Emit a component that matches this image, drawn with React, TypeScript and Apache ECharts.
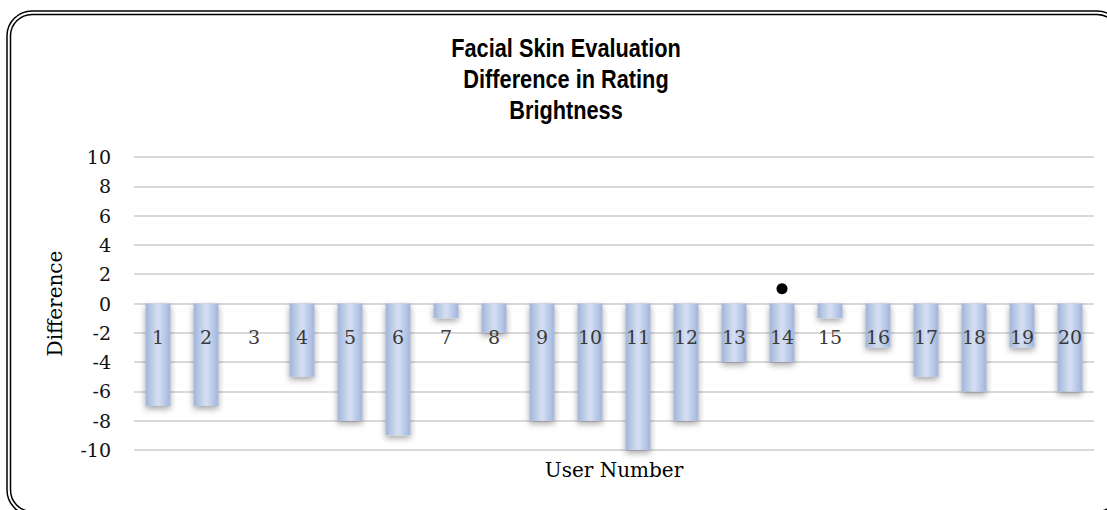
import React, { useEffect, useRef } from "react";
import * as echarts from "echarts";

const titleLines = ["Facial Skin Evaluation", "Difference in Rating", "Brightness"];
const categories = ["1", "2", "3", "4", "5", "6", "7", "8", "9", "10", "11", "12", "13", "14", "15", "16", "17", "18", "19", "20"];
const differences = [-7, -7, 0, -5, -8, -9, -1, -2, -8, -8, -10, -8, -4, -4, -1, -3, -5, -6, -3, -6];
const markerCategories = ["14"];
const markerValues = [1];
const yMin = -10;
const yMax = 10;
const yStep = 2;
const xAxisName = "User Number";
const yAxisName = "Difference";

const GRID_TOP = 157;
const GRID_BOTTOM = 60;
const CHART_H = 510;

export default function App() {
  const ref = useRef<HTMLDivElement>(null);
  useEffect(() => {
    if (!ref.current) return;
    const chart = echarts.init(ref.current, null, { renderer: "svg" });
    const serif = "DejaVu Serif";
    const plotH = CHART_H - GRID_TOP - GRID_BOTTOM;
    // distance from the plot bottom up to the zero line
    const zeroOffset = (plotH * (0 - yMin)) / (yMax - yMin);
    chart.setOption({
      animation: false,
      backgroundColor: "#ffffff",
      grid: { left: 134, right: 13, top: GRID_TOP, bottom: GRID_BOTTOM, containLabel: false, outerBoundsMode: "none" },
      xAxis: {
        type: "category",
        data: categories,
        position: "bottom",
        offset: -zeroOffset,
        z: 10,
        name: xAxisName,
        nameLocation: "middle",
        nameGap: 156,
        nameTextStyle: { fontFamily: serif, fontSize: 20, color: "#000" },
        axisLine: { show: false, onZero: false },
        axisTick: { show: false },
        axisLabel: { fontFamily: serif, fontSize: 19, color: "#3a3a3a", margin: 24, interval: 0 },
        splitLine: { show: false },
      },
      yAxis: {
        type: "value",
        min: yMin,
        max: yMax,
        interval: yStep,
        name: yAxisName,
        nameLocation: "middle",
        nameRotate: 90,
        nameGap: 69,
        nameTextStyle: { fontFamily: serif, fontSize: 20, color: "#000" },
        axisLine: { show: false },
        axisTick: { show: false },
        axisLabel: { fontFamily: serif, fontSize: 19, color: "#111", margin: 23 },
        splitLine: { show: true, lineStyle: { color: "#d9d9d9", width: 2 } },
      },
      series: [
        {
          type: "bar",
          data: differences,
          barWidth: 25,
          itemStyle: {
            color: new echarts.graphic.LinearGradient(0, 0, 1, 0, [
              { offset: 0, color: "#a0b5dc" },
              { offset: 0.5, color: "#d6e0f3" },
              { offset: 1, color: "#a0b5dc" },
            ]),
            shadowColor: "rgba(0,0,0,0.35)",
            shadowBlur: 6,
            shadowOffsetY: 3,
          },
          z: 2,
        },
        {
          type: "scatter",
          data: markerCategories.map((c, i) => [c, markerValues[i]]),
          symbol: "circle",
          symbolSize: 11,
          itemStyle: { color: "#000", opacity: 1 },
          z: 3,
        },
      ],
      graphic: [
        {
          type: "rect",
          shape: { x: 7, y: 11, width: 1115, height: 504, r: 25 },
          style: { fill: "none", stroke: "#000", lineWidth: 1.5 },
          silent: true,
        },
        {
          type: "rect",
          shape: { x: 10.5, y: 14.5, width: 1108, height: 497, r: 21.5 },
          style: { fill: "none", stroke: "#000", lineWidth: 1.5 },
          silent: true,
        },
        {
          type: "text",
          x: 566,
          y: 33,
          scaleX: 0.87,
          style: {
            text: titleLines.join("\n"),
            font: 'bold 25px "Liberation Sans", Arial, sans-serif',
            fill: "#000",
            align: "center",
            verticalAlign: "top",
            lineHeight: 31,
          },
          silent: true,
        },
      ],
    });
    return () => chart.dispose();
  }, []);
  return (
    <div
      ref={ref}
      style={{ position: "absolute", left: 0, top: 0, width: 1107, height: 510 }}
    />
  );
}
